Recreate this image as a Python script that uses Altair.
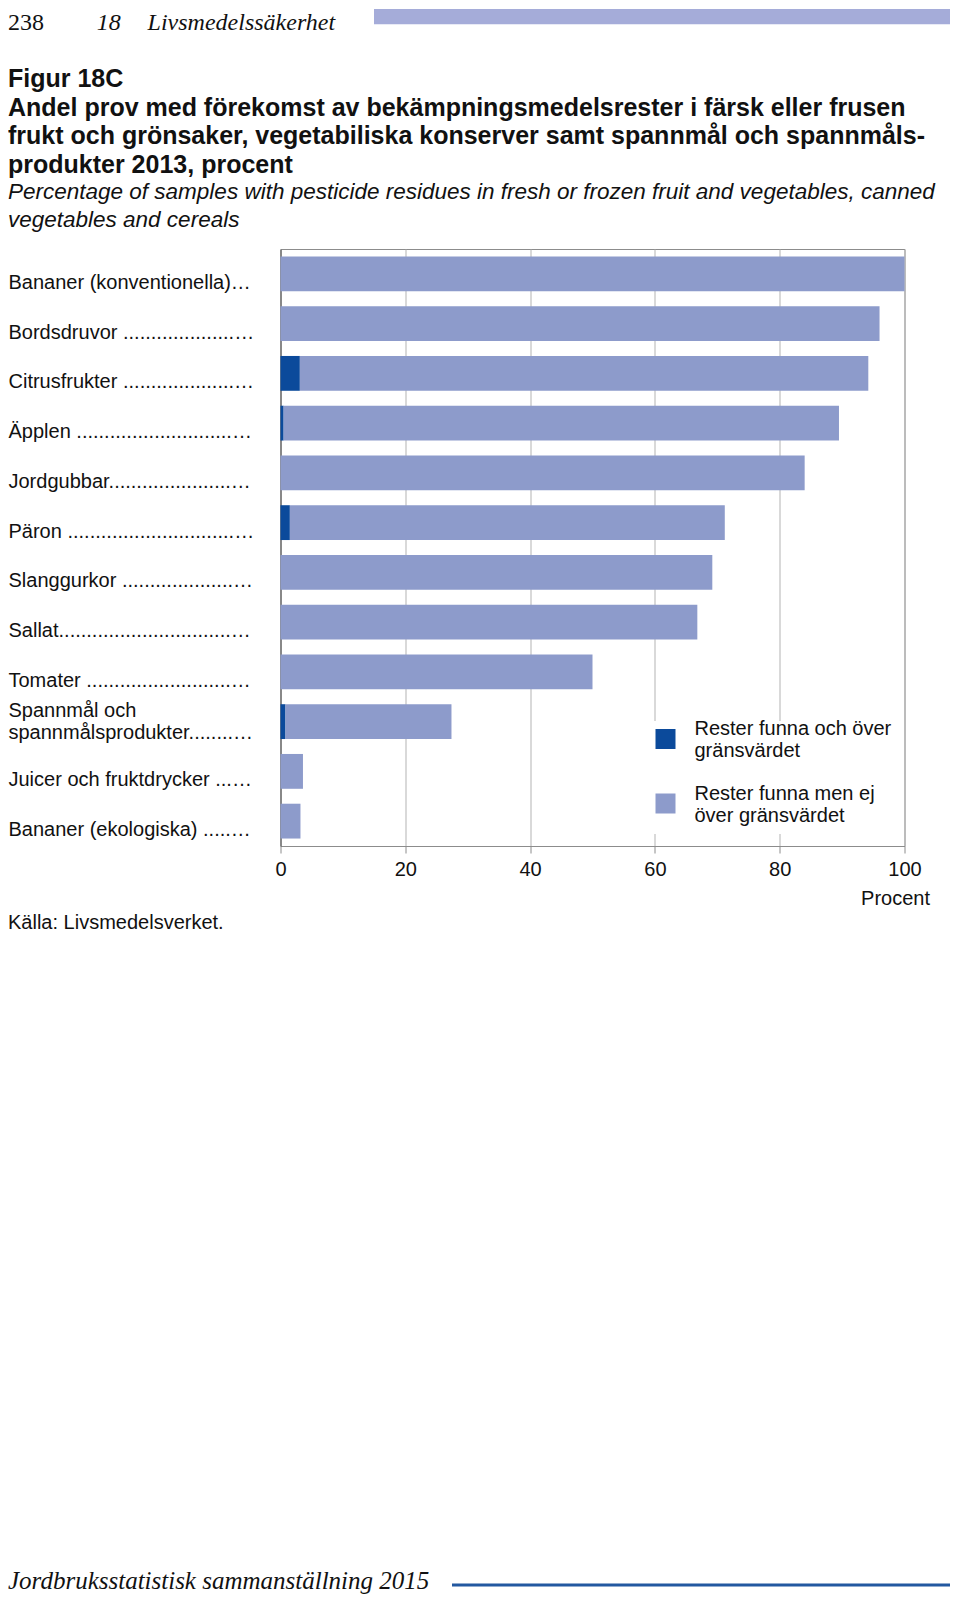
import altair as alt
import pandas as pd

# ---------------- data ----------------
categories = [
    "Bananer (konventionella) ",
    "Bordsdruvor ",
    "Citrusfrukter ",
    "Äpplen ",
    "Jordgubbar",
    "Päron ",
    "Slanggurkor ",
    "Sallat",
    "Tomater ",
    "Spannmål och\nspannmålsprodukter",
    "Juicer och fruktdrycker ",
    "Bananer (ekologiska) ",
]
over_limit = [0.0, 0.0, 3.1, 0.5, 0.0, 1.5, 0.0, 0.0, 0.0, 0.8, 0.0, 0.0]
under_limit = [100.0, 96.0, 91.1, 89.0, 84.0, 69.7, 69.2, 66.8, 50.0, 26.6, 3.6, 3.2]
series_names = [
    "Rester funna och över\ngränsvärdet",
    "Rester funna men ej\növer gränsvärdet",
]
x_ticks = [0, 20, 40, 60, 80, 100]

header_page = "238"
header_chapter = "18"
header_title = "Livsmedelssäkerhet"
title_lines = (
    "Figur 18C\n"
    "Andel prov med förekomst av bekämpningsmedelsrester i färsk eller frusen\n"
    "frukt och grönsaker, vegetabiliska konserver samt spannmål och spannmåls-\n"
    "produkter 2013, procent"
)
subtitle_lines = (
    "Percentage of samples with pesticide residues in fresh or frozen fruit and vegetables, canned\n"
    "vegetables and cereals"
)
source_text = "Källa: Livsmedelsverket."
footer_text = "Jordbruksstatistisk sammanställning 2015"
x_title = "Procent"

rows = []
for i, c in enumerate(categories):
    rows.append({"kategori": c, "serie": series_names[0], "varde": over_limit[i], "ordning": 0})
    rows.append({"kategori": c, "serie": series_names[1], "varde": under_limit[i], "ordning": 1})
df = pd.DataFrame(rows)

SANS = "Liberation Sans"
SERIF = "Liberation Serif"
DOTS = "." * 80

bars = alt.Chart(df).mark_bar().encode(
    y=alt.Y(
        "kategori:N",
        sort=categories,
        scale=alt.Scale(paddingInner=0.3, paddingOuter=0.15),
        axis=alt.Axis(
            title=None,
            ticks=False,
            tickSize=0,
            grid=False,
            domainColor="#555555",
            domainWidth=1,
            labelAlign="left",
            labelPadding=272.5,
            labelLimit=246,
            labelFont=SANS,
            labelFontSize=20,
            labelColor="#111111",
            labelOffset={"condition": {"test": "indexof(datum.value, '\\n') >= 0", "value": -11}, "value": 9},
            labelExpr="split(datum.label + '" + DOTS + "', '\\n')",
        ),
    ),
    x=alt.X(
        "varde:Q",
        stack="zero",
        scale=alt.Scale(domain=[0, 100], nice=False),
        axis=alt.Axis(
            values=x_ticks,
            title=x_title,
            titleFont=SANS,
            titleFontSize=20,
            titleFontWeight="normal",
            titleColor="#111111",
            titleAlign="right",
            titleBaseline="middle",
            titleX=649,
            titleY=52.5,
            grid=True,
            gridColor="#b3b3b3",
            gridWidth=1,
            domainColor="#8c8c8c",
            tickColor="#8c8c8c",
            tickSize=7,
            labelPadding=6,
            labelFlush=False,
            labelFont=SANS,
            labelFontSize=20,
            labelColor="#111111",
        ),
    ),
    color=alt.Color(
        "serie:N",
        scale=alt.Scale(domain=series_names, range=["#0B4A9B", "#8D9BCB"]),
        legend=alt.Legend(
            orient="none",
            legendX=367,
            legendY=472,
            title=None,
            symbolType="square",
            symbolSize=400,
            symbolStrokeWidth=0,
            labelFont=SANS,
            labelFontSize=20,
            labelColor="#111111",
            labelBaseline="bottom",
            labelOffset=19,
            labelLimit=400,
            rowPadding=22.5,
            padding=8,
            fillColor="white",
            labelExpr="split(datum.label, '\\n')",
        ),
    ),
    order=alt.Order("ordning:Q"),
)


def deco(text, x, y, size, font, style="normal", weight="normal", line_height=None):
    kw = dict(align="left", baseline="alphabetic", font=font, fontSize=size,
              fontStyle=style, fontWeight=weight, color="#111111", lineBreak="\n")
    if line_height is not None:
        kw["lineHeight"] = line_height
    return alt.Chart(pd.DataFrame({"t": [text]})).mark_text(**kw).encode(
        text="t:N", x=alt.value(x), y=alt.value(y)
    )


header_bar = alt.Chart(pd.DataFrame({"t": [header_title]})).mark_rect(color="#A5ACD9").encode(
    x=alt.value(93.5), x2=alt.value(669.5), y=alt.value(-240), y2=alt.value(-224.7)
)
footer_line = alt.Chart(pd.DataFrame({"t": [footer_text]})).mark_rule(color="#2358A0", strokeWidth=3).encode(
    x=alt.value(171.5), x2=alt.value(669.5), y=alt.value(1336)
)

layers = [
    bars,
    header_bar,
    deco(header_page, -272.5, -219, 24, SERIF),
    deco(header_chapter, -183.8, -219, 24, SERIF, style="italic"),
    deco(header_title, -132.9, -219, 24, SERIF, style="italic"),
    deco(title_lines, -272.5, -161.6, 25, SANS, weight="bold", line_height=28.4),
    deco(subtitle_lines, -272.5, -49.6, 22.5, SANS, style="italic", line_height=27.5),
    deco(source_text, -272.5, 679.7, 20, SANS),
    deco(footer_text, -272.5, 1339.5, 25, SERIF, style="italic"),
    footer_line,
]

chart = alt.layer(*layers).properties(
    width=624,
    height=597,
    autosize=alt.AutoSizeParams(type="none"),
    padding={"left": 272.5, "top": 241, "right": 47.5, "bottom": 751},
).configure_view(stroke="#8c8c8c", strokeWidth=1)

chart.save("out.html", embed_options={"renderer": "svg", "actions": False})
